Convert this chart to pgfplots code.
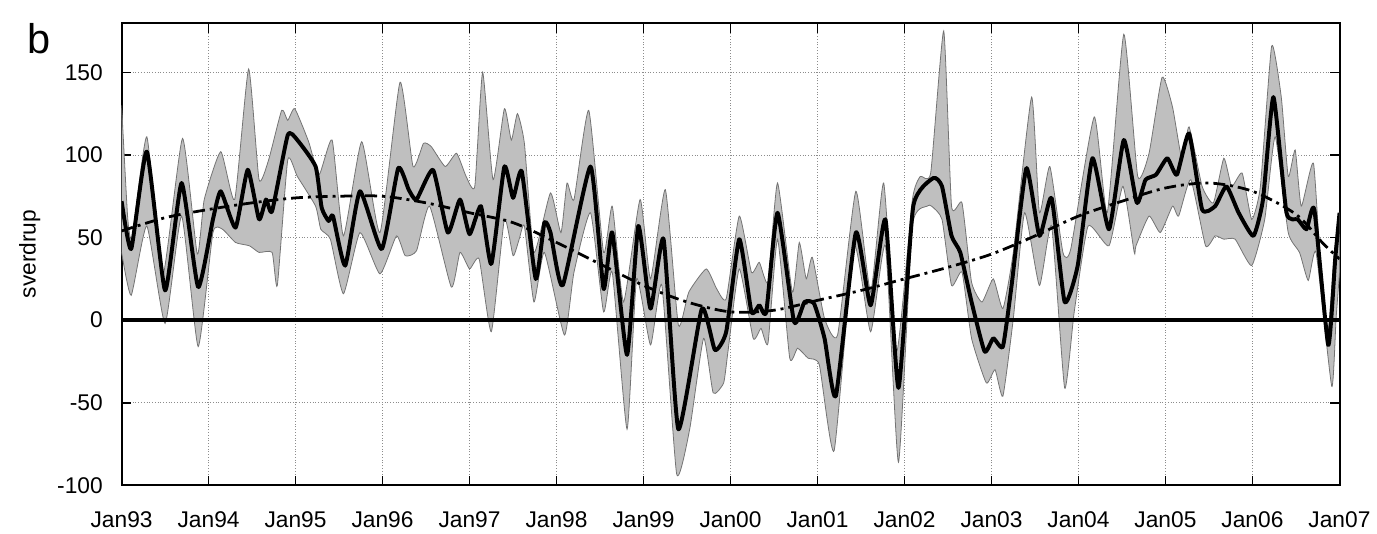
\documentclass[border=0pt]{standalone}
\usepackage{fontspec}
\setmainfont{Liberation Sans}
\usepackage{pgfplots}
\usepackage{pgfplotstable}
\pgfplotsset{compat=1.18}
\usepgfplotslibrary{fillbetween}

% upper edge of the spread
\pgfplotstableread{
x y
1993.00 130
1993.07 62
1993.12 50
1993.29 111
1993.47 26
1993.70 110
1993.87 40
1993.95 73
1994.14 102
1994.30 73
1994.46 152
1994.58 85
1994.69 97
1994.84 127
1994.91 121
1994.99 128
1995.15 108
1995.27 88
1995.42 109
1995.55 51
1995.76 108
1995.97 53
1996.20 144
1996.35 93
1996.47 107
1996.56 105
1996.72 93
1996.85 101
1996.96 87
1997.06 81
1997.15 150
1997.27 85
1997.40 128
1997.48 109
1997.55 125
1997.63 107
1997.74 41
1997.93 77
1998.05 53
1998.12 83
1998.20 73
1998.37 127
1998.54 41
1998.64 69
1998.77 11
1998.96 73
1999.08 25
1999.25 79
1999.40 -3
1999.52 17
1999.72 31
1999.84 19
1999.95 13
2000.10 63
2000.24 29
2000.33 35
2000.43 23
2000.54 83
2000.71 17
2000.79 47
2000.87 25
2000.94 38
2001.08 1
2001.23 -9
2001.44 78
2001.61 17
2001.76 83
2001.91 -19
2002.09 73
2002.18 87
2002.30 89
2002.45 175
2002.54 69
2002.66 71
2002.77 23
2002.89 11
2003.02 25
2003.13 7
2003.25 41
2003.46 135
2003.55 65
2003.67 93
2003.82 41
2003.91 43
2004.18 123
2004.33 65
2004.52 173
2004.68 87
2004.81 101
2004.96 147
2005.08 129
2005.19 97
2005.27 117
2005.42 81
2005.55 71
2005.67 98
2005.76 81
2005.88 89
2005.99 61
2006.09 81
2006.22 166
2006.33 135
2006.41 87
2006.49 103
2006.56 69
2006.70 95
2006.79 25
2006.87 -5
2006.94 41
2007.00 65
}\uptab

% lower edge of the spread
\pgfplotstableread{
x y
1993.00 41
1993.11 15
1993.29 57
1993.50 -2
1993.69 63
1993.88 -16
1994.05 53
1994.16 55
1994.31 47
1994.47 45
1994.58 41
1994.73 41
1994.79 21
1994.91 97
1995.02 87
1995.23 69
1995.29 55
1995.40 49
1995.55 16
1995.74 53
1995.97 28
1996.16 51
1996.26 39
1996.39 42
1996.54 69
1996.79 20
1996.89 41
1997.00 31
1997.11 37
1997.25 -7
1997.40 61
1997.50 39
1997.57 49
1997.63 57
1997.74 11
1997.86 41
1998.09 -9
1998.20 29
1998.39 65
1998.54 5
1998.64 29
1998.81 -66
1998.92 25
1999.08 -15
1999.21 21
1999.38 -93
1999.53 -66
1999.69 -11
1999.80 -44
1999.92 -38
1999.97 -19
2000.10 31
2000.26 -11
2000.35 -5
2000.43 -14
2000.54 49
2000.68 -23
2000.77 -17
2000.89 -23
2001.02 -27
2001.19 -79
2001.42 45
2001.61 -7
2001.78 45
2001.93 -86
2002.09 57
2002.26 69
2002.31 69
2002.43 61
2002.54 21
2002.66 29
2002.77 -11
2002.94 -38
2003.04 -30
2003.13 -46
2003.25 1
2003.38 65
2003.55 21
2003.69 57
2003.84 -41
2003.95 5
2004.11 57
2004.35 45
2004.51 81
2004.64 41
2004.66 45
2004.81 63
2004.94 53
2005.08 69
2005.15 63
2005.29 85
2005.46 45
2005.57 51
2005.67 49
2005.80 49
2005.99 33
2006.14 61
2006.26 111
2006.41 53
2006.54 41
2006.64 24
2006.73 41
2006.91 -40
2006.96 1
2007.00 29
}\lotab

% mean transport
\pgfplotstableread{
x y
1993.00 72
1993.11 43
1993.29 102
1993.50 18
1993.69 83
1993.88 20
1994.05 61
1994.14 78
1994.31 56
1994.45 91
1994.58 61
1994.66 73
1994.73 66
1994.91 112
1995.02 109
1995.23 93
1995.30 68
1995.38 60
1995.43 63
1995.57 33
1995.74 78
1995.99 43
1996.18 92
1996.30 79
1996.39 73
1996.58 91
1996.75 53
1996.89 73
1997.00 52
1997.13 69
1997.25 34
1997.40 93
1997.50 74
1997.60 90
1997.76 25
1997.86 59
1997.93 53
1998.07 21
1998.39 93
1998.54 19
1998.64 53
1998.81 -21
1998.94 57
1999.08 7
1999.23 49
1999.40 -66
1999.67 7
1999.82 -18
1999.95 -7
2000.10 49
2000.24 5
2000.33 9
2000.41 5
2000.54 65
2000.73 -1
2000.85 11
2000.96 10
2001.08 -11
2001.21 -46
2001.44 53
2001.61 9
2001.78 61
2001.93 -41
2002.10 69
2002.33 86
2002.43 81
2002.54 51
2002.64 41
2002.77 11
2002.92 -19
2003.02 -11
2003.13 -16
2003.23 21
2003.40 92
2003.55 51
2003.69 74
2003.84 11
2003.99 33
2004.16 98
2004.35 55
2004.52 109
2004.67 71
2004.77 85
2004.89 88
2005.02 98
2005.13 88
2005.27 113
2005.42 67
2005.57 69
2005.70 81
2005.84 65
2006.01 51
2006.12 73
2006.24 135
2006.39 65
2006.52 61
2006.62 55
2006.71 67
2006.87 -15
2006.95 37
2007.00 65
}\meantab

% smooth trend
\pgfplotstableread{
x y
1993.0 54
1993.5 62
1994.0 67
1994.5 71
1995.0 74
1995.5 75
1996.0 75
1996.5 71
1997.0 65
1997.5 59
1998.0 47
1998.5 34
1999.0 21
1999.5 11
2000.0 5
2000.5 6
2001.0 12
2001.5 18
2002.0 25
2002.5 32
2003.0 40
2003.5 51
2004.0 63
2004.5 72
2005.0 80
2005.5 83
2006.0 78
2006.5 64
2006.8 47
2007.0 37
}\trendtab

\begin{document}
\begin{tikzpicture}
\begin{axis}[
  scale only axis,
  width=616pt, height=234pt,
  xmin=1993, xmax=2007,
  ymin=-100, ymax=180,
  xtick={1993,...,2007},
  xticklabels={Jan93,Jan94,Jan95,Jan96,Jan97,Jan98,Jan99,Jan00,Jan01,Jan02,Jan03,Jan04,Jan05,Jan06,Jan07},
  ytick={-100,-50,0,50,100,150},
  yticklabels={-100,-50,0,50,100,150},
  tick label style={font=\fontsize{11.5}{13}\selectfont},
  xticklabel style={yshift=-9.5pt},
  yticklabel style={xshift=-6pt},
  tick align=inside,
  major tick length=5pt,
  every tick/.style={black, line width=0.8pt},
  axis line style={line width=1pt},
  grid=major,
  major grid style={densely dotted, black!45, line width=0.4pt},
]
\addplot[draw=none, name path=up, smooth, tension=0.3] table {\uptab};
\addplot[draw=none, name path=lo, smooth, tension=0.3] table {\lotab};
\addplot[fill=black!25, draw=none] fill between[of=up and lo];
\addplot[black!55, line width=0.4pt, smooth, tension=0.3] table {\uptab};
\addplot[black!55, line width=0.4pt, smooth, tension=0.3] table {\lotab};
\addplot[black, line width=2pt] coordinates {(1993,0) (2007,0)};
\addplot[black, line width=1.4pt, smooth, dash pattern=on 6pt off 2.5pt on 1.5pt off 2.5pt] table {\trendtab};
\addplot[black, line width=2pt, line join=round, smooth, tension=0.3] table {\meantab};
\end{axis}
\node[rotate=90, font=\fontsize{11.5}{13}\selectfont] at ([xshift=-46.5pt]current axis.west) {sverdrup};
\node[font=\fontsize{21}{21}\selectfont] at ([xshift=-42pt,yshift=-8pt]current axis.north west) {b};
\path ([xshift=-61.5pt,yshift=-20pt]current axis.south west) rectangle ([xshift=14.5pt,yshift=11.5pt]current axis.north east);
\end{tikzpicture}
\end{document}
